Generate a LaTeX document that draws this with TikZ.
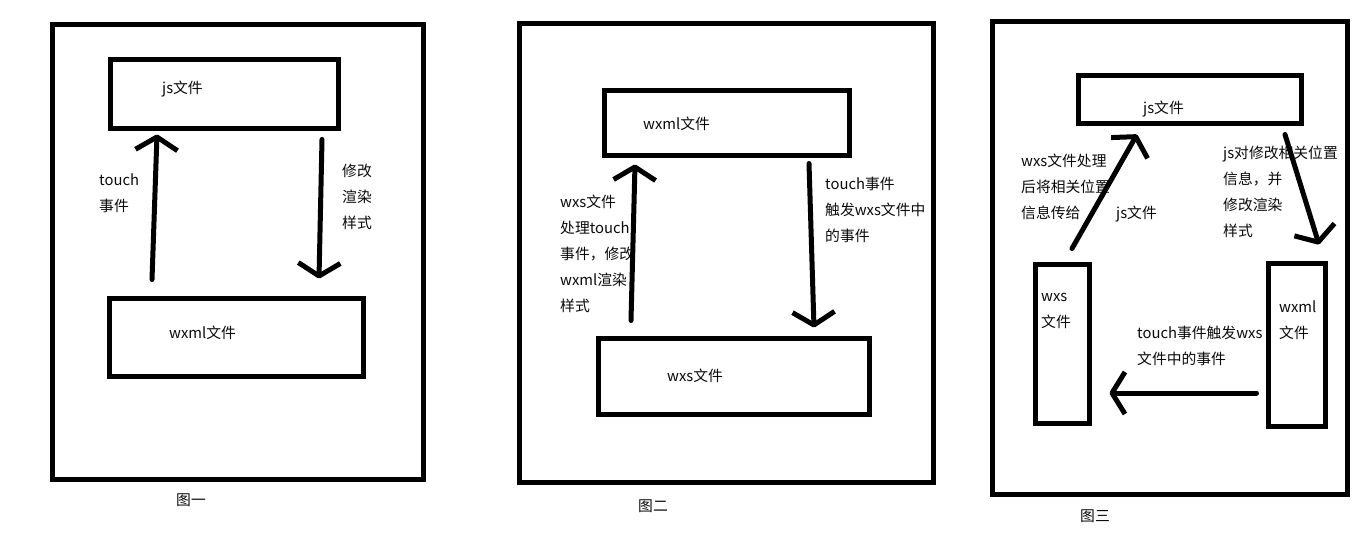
\documentclass[tikz,border=0pt]{standalone}
\usepackage{fontspec}
\setmainfont{Noto Sans CJK SC}
\usetikzlibrary{arrows.meta}
\begin{document}
\begin{tikzpicture}[
		x=1pt,
		y=-1pt,
		hop/.style={draw=MauNet, line width=5pt, rectangle, inner sep=0pt},
		chu/.style={text=MauChu, anchor=north west, inner sep=0pt, align=left,
			font=\fontsize{14.8}{26}\selectfont},
		muiten/.style={draw=MauNet, line width=5pt, line cap=round,
			-{Straight Barb[length=13pt,width=42pt,line join=round]}}
	]
	% ===== MÀU SẮC =====
	\definecolor{MauNet}{RGB}{0,0,0}
	\definecolor{MauChu}{RGB}{10,10,10}

	% ===== CÁC KHUNG =====
	\def\KhungA{(52.5,24.5) rectangle (423.5,479.5)}
	\def\KhungB{(519.5,23.5) rectangle (933.5,482.5)}
	\def\KhungC{(992.5,21.5) rectangle (1347.5,494.5)}

	\useasboundingbox (0,0) rectangle (1358,535);

	% ===== KHUNG NGOÀI =====
	\draw[MauNet,line width=5pt] \KhungA;
	\draw[MauNet,line width=5pt] \KhungB;
	\draw[MauNet,line width=5pt] \KhungC;

	% ===== HÌNH MỘT =====
	\node[hop, minimum width=228pt, minimum height=69pt] (JsA) at (224.5,94) {};
	\node[hop, minimum width=254pt, minimum height=78pt] (WxmlA) at (236.5,337.5) {};
	\node[chu] (TenJsA) at (162,80.5) {js文件};
	\node[chu] (TenWxmlA) at (169,325.5) {wxml文件};
	\node[chu] (NhanLenA) at (99,173.5) {touch\\事件};
	\node[chu] (NhanXuongA) at (342,163.5) {修改\\渲染\\样式};
	\node[chu] (ChuThichA) at (176,493.5) {图一};

	\draw[muiten] ([xshift=-84.5pt,yshift=16.5pt]WxmlA.north)
		-- ([xshift=-67.5pt,yshift=-3.5pt]JsA.south);
	\draw[muiten] ([xshift=97.5pt,yshift=-8.5pt]JsA.south)
		-- ([xshift=82.5pt,yshift=17.5pt]WxmlA.north);

	% ===== HÌNH HAI =====
	\node[hop, minimum width=245pt, minimum height=65pt] (WxmlB) at (727,123) {};
	\node[hop, minimum width=271pt, minimum height=76pt] (WxsB) at (734,376.5) {};
	\node[chu] (TenWxmlB) at (643,116.5) {wxml文件};
	\node[chu] (TenWxsB) at (667,368.5) {wxs文件};
	\node[chu] (NhanLenB) at (560,194.5) {wxs文件\\处理touch\\事件，修改\\wxml渲染\\样式};
	\node[chu] (NhanXuongB) at (825,176.5) {touch事件\\触发wxs文件中\\的事件};
	\node[chu] (ChuThichB) at (638,499.5) {图二};

	\draw[muiten] ([xshift=-103pt,yshift=15.5pt]WxsB.north)
		-- ([xshift=-92pt,yshift=-6.5pt]WxmlB.south);
	\draw[muiten] ([xshift=82pt,yshift=-5.5pt]WxmlB.south)
		-- ([xshift=80pt,yshift=8.5pt]WxsB.north);

	% ===== HÌNH BA =====
	\node[hop, minimum width=223pt, minimum height=48pt] (JsC) at (1190,99.5) {};
	\node[hop, minimum width=54pt, minimum height=159pt] (WxsC) at (1062.5,344) {};
	\node[hop, minimum width=57pt, minimum height=163pt] (WxmlC) at (1297,345) {};
	\node[chu] (TenJsC) at (1143,100.5) {js文件};
	\node[chu] (TenWxsC) at (1041,293.5) {wxs\\文件};
	\node[chu] (TenWxmlC) at (1279,300.5) {wxml\\文件};
	\node[chu] (NhanLenC) at (1021,153.5) {wxs文件处理\\后将相关位置\\信息传给};
	\node[chu] (NhanJsC) at (1116,205.5) {js文件};
	\node[chu] (NhanXuongC) at (1223,145.5) {js对修改相关位置\\信息，并\\修改渲染\\样式};
	\node[chu] (NhanTraiC) at (1137,325.5) {touch事件触发wxs\\文件中的事件};
	\node[chu] (ChuThichC) at (1080,509.5) {图三};

	\draw[muiten] ([xshift=9.5pt,yshift=13.5pt]WxsC.north)
		-- ([xshift=-53pt,yshift=-8.5pt]JsC.south);
	\draw[muiten] ([xshift=95pt,yshift=-8.5pt]JsC.south)
		-- ([xshift=22pt,yshift=16.5pt]WxmlC.north);
	\draw[muiten] ([xshift=-9.5pt,yshift=-48pt]WxmlC.west)
		-- ([xshift=17.5pt,yshift=-49pt]WxsC.east);

\end{tikzpicture}
\end{document}
